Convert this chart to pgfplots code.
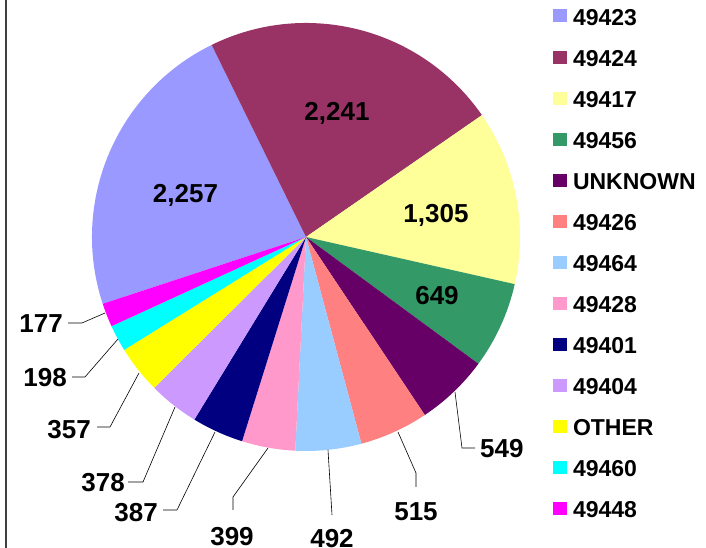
\documentclass[border=0pt]{standalone}
\usepackage{fontspec}
\setmainfont{Liberation Sans}
\usepackage{pgfplots}
\usepackage{pgfplotstable}
\pgfplotsset{compat=1.18}
\definecolor{c0}{RGB}{153,153,255}
\definecolor{c1}{RGB}{153,51,102}
\definecolor{c2}{RGB}{255,255,153}
\definecolor{c3}{RGB}{51,153,102}
\definecolor{c4}{RGB}{102,0,102}
\definecolor{c5}{RGB}{255,128,128}
\definecolor{c6}{RGB}{153,204,255}
\definecolor{c7}{RGB}{255,153,204}
\definecolor{c8}{RGB}{0,0,128}
\definecolor{c9}{RGB}{204,153,255}
\definecolor{c10}{RGB}{255,255,0}
\definecolor{c11}{RGB}{0,255,255}
\definecolor{c12}{RGB}{255,0,255}
\pgfplotstableread{
label value
49423 2257
49424 2241
49417 1305
49456 649
UNKNOWN 549
49426 515
49464 492
49428 399
49401 387
49404 378
OTHER 357
49460 198
49448 177
}\piedata
\def\total{0}
\pgfplotsforeachungrouped \i in {0,...,12}{%
  \pgfplotstablegetelem{\i}{value}\of\piedata
  \pgfmathsetmacro\total{\total+\pgfplotsretval}%
}
\xdef\total{\total}
\def\cum{0}
\def\startang{198.2}
\pgfplotsforeachungrouped \i in {0,...,12}{%
  \pgfplotstablegetelem{\i}{value}\of\piedata
  \pgfmathsetmacro\a{\startang-\cum/\total*360}%
  \pgfmathsetmacro\cum{\cum+\pgfplotsretval}%
  \pgfmathsetmacro\b{\startang-\cum/\total*360}%
  \expandafter\xdef\csname sa\i\endcsname{\a}%
  \expandafter\xdef\csname sb\i\endcsname{\b}%
}
\begin{document}
\begin{tikzpicture}
\useasboundingbox (0,0) rectangle (706pt,548pt);
\begin{axis}[at={(0,0)}, anchor=south west, width=706pt, height=548pt, scale only axis,
  xmin=0, xmax=706, ymin=0, ymax=548, hide axis, clip=false, enlargelimits=false,
  legend image code/.code={\fill[#1, draw=none] (0pt,-4.5pt) rectangle (14pt,8.5pt);},
  legend style={at={(553/706,538.8/548)}, anchor=north west, draw=none, fill=none,
    inner sep=0pt, outer sep=0pt, row sep=23.5pt, column sep=6pt,
    font=\fontsize{23}{27}\selectfont\bfseries, nodes={inner sep=0pt}},
  legend cell align=left,
]
\addlegendimage{fill=c0,draw=none}\addlegendentry{49423}
\addlegendimage{fill=c1,draw=none}\addlegendentry{49424}
\addlegendimage{fill=c2,draw=none}\addlegendentry{49417}
\addlegendimage{fill=c3,draw=none}\addlegendentry{49456}
\addlegendimage{fill=c4,draw=none}\addlegendentry{UNKNOWN}
\addlegendimage{fill=c5,draw=none}\addlegendentry{49426}
\addlegendimage{fill=c6,draw=none}\addlegendentry{49464}
\addlegendimage{fill=c7,draw=none}\addlegendentry{49428}
\addlegendimage{fill=c8,draw=none}\addlegendentry{49401}
\addlegendimage{fill=c9,draw=none}\addlegendentry{49404}
\addlegendimage{fill=c10,draw=none}\addlegendentry{OTHER}
\addlegendimage{fill=c11,draw=none}\addlegendentry{49460}
\addlegendimage{fill=c12,draw=none}\addlegendentry{49448}
\begin{scope}
\clip (axis cs:0,0) rectangle (axis cs:522,548);
\pgfplotsinvokeforeach{0,...,12}{
  \fill[c#1] (axis cs:306,311) -- ++(\csname sa#1\endcsname:214pt)
    arc[start angle=\csname sa#1\endcsname, end angle=\csname sb#1\endcsname, radius=214pt] -- cycle;
}
\begin{scope}[every node/.style={inner sep=0pt, font=\fontsize{26}{30}\selectfont\bfseries}]
\node[anchor=base] at (axis cs:185.5,345) {2,257};
\node[anchor=base] at (axis cs:337,427) {2,241};
\node[anchor=base] at (axis cs:436,325) {1,305};
\node[anchor=base] at (axis cs:437,243) {649};
\node[anchor=base west] at (axis cs:480,90) {549};
\node[anchor=base] at (axis cs:416,27) {515};
\node[anchor=base] at (axis cs:332,0) {492};
\node[anchor=base] at (axis cs:232,2.4) {399};
\node[anchor=base east] at (axis cs:158,26) {387};
\node[anchor=base east] at (axis cs:125,56) {378};
\node[anchor=base east] at (axis cs:91,109) {357};
\node[anchor=base east] at (axis cs:67,161) {198};
\node[anchor=base east] at (axis cs:63,215) {177};
\end{scope}
\begin{scope}[black, line width=0.6pt]
\draw (axis cs:455,156) -- (axis cs:462,100) -- (axis cs:475,100);
\draw (axis cs:398,116) -- (axis cs:416,75) -- (axis cs:416,61);
\draw (axis cs:328,98) -- (axis cs:332,33);
\draw (axis cs:268,100) -- (axis cs:233,51) -- (axis cs:233,38);
\draw (axis cs:215,116) -- (axis cs:177,38) -- (axis cs:163,38);
\draw (axis cs:175,141) -- (axis cs:143,66) -- (axis cs:128,66);
\draw (axis cs:139,175) -- (axis cs:110,121) -- (axis cs:97,121);
\draw (axis cs:118,209) -- (axis cs:85,171) -- (axis cs:72,171);
\draw (axis cs:105,235) -- (axis cs:82,225) -- (axis cs:68,225);
\end{scope}
\end{scope}
\draw[line width=2pt, color=black!75] (axis cs:6,0) -- (axis cs:6,548);
\end{axis}
\end{tikzpicture}
\end{document}
